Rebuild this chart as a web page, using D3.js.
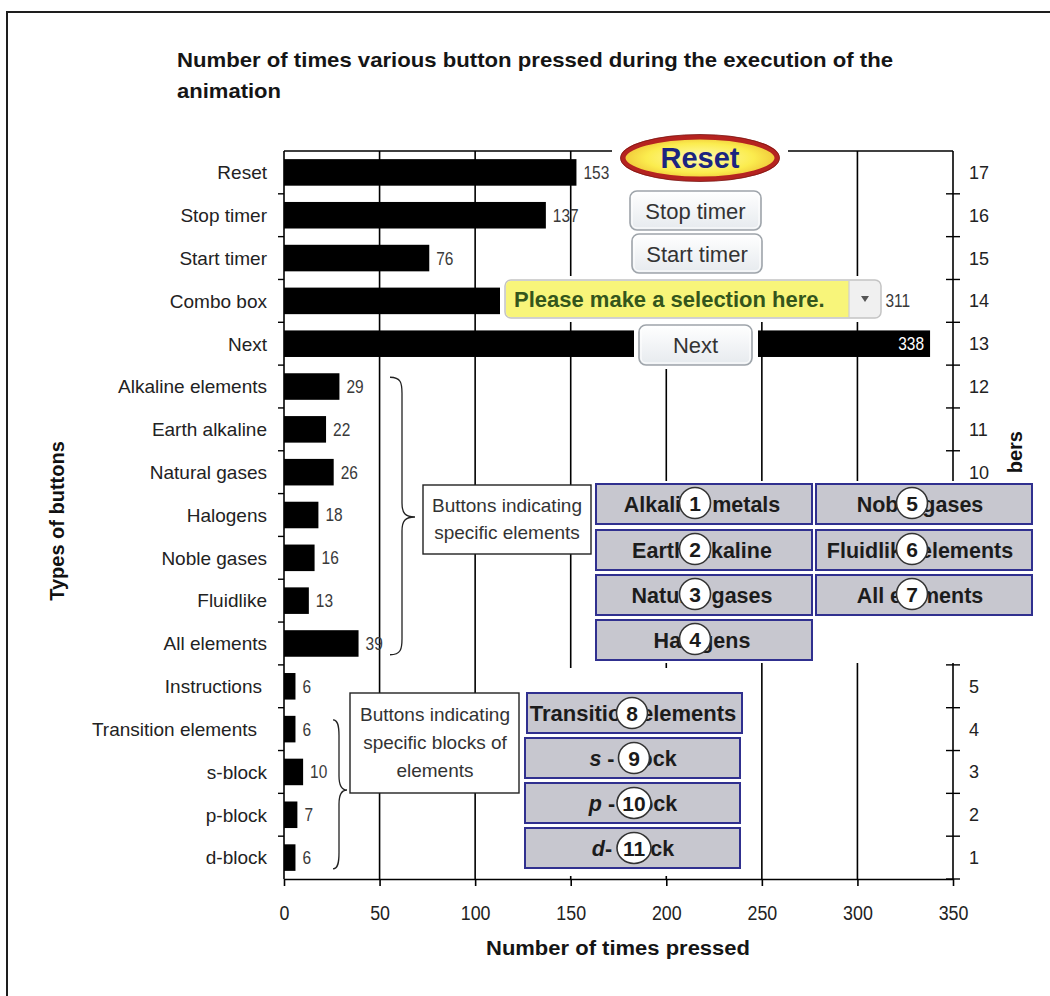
<!DOCTYPE html>
<html>
<head>
<meta charset="utf-8">
<script src="https://cdn.jsdelivr.net/npm/d3@7"></script>
<style>
  html, body { margin: 0; padding: 0; background: #fff; }
  svg { display: block; font-family: "Liberation Sans", Arial, sans-serif; }
</style>
</head>
<body>
<svg id="chart" width="1050" height="996"></svg>
<script>
// ---- data ----
const categories = [
  "Reset", "Stop timer", "Start timer", "Combo box", "Next",
  "Alkaline elements", "Earth alkaline", "Natural gases", "Halogens",
  "Noble gases", "Fluidlike", "All elements", "Instructions",
  "Transition elements", "s-block", "p-block", "d-block"
];
const pressCounts = [153, 137, 76, 311, 338, 29, 22, 26, 18, 16, 13, 39, 6, 6, 10, 7, 6];
const buttonNumbers = ["17","16","15","14","13","12","11","10","9","8","7","6","5","4","3","2","1"];
const xTickValues = [0, 50, 100, 150, 200, 250, 300, 350];

const titleLines = ["Number of times various button pressed during the execution of the", "animation"];
const xAxisTitle = "Number of times pressed";
const yAxisTitle = "Types of buttons";
const yRightTitle = "Button numbers";

const elementButtons = ["Alkaline metals", "Earth alkaline", "Natural gases", "Halogens",
                        "Noble gases", "Fluidlike elements", "All elements"];
const elementButtonNumbers = [1, 2, 3, 4, 5, 6, 7];
const blockButtons = ["Transition elements", "s - block", "p - block", "d- block"];
const blockButtonItalicLead = [false, true, true, true];
const blockButtonNumbers = [8, 9, 10, 11];
const elementNote = ["Buttons indicating", "specific elements"];
const blockNote = ["Buttons indicating", "specific blocks of", "elements"];
const comboText = "Please make a selection here.";

// ---- setup ----
const W = 1050, H = 996;
const svg = d3.select("#chart");
const plot = { left: 284, right: 953, top: 151, bottom: 879 };

const x = d3.scaleLinear().domain([0, 350]).range([plot.left, plot.right]);
const y = d3.scaleBand().domain(categories).range([plot.top, plot.bottom])
  .paddingInner(0.38).paddingOuter(0.19);
const yRight = d3.scaleBand().domain(buttonNumbers).range([plot.top, plot.bottom])
  .paddingInner(0.38).paddingOuter(0.19);
const boundaries = d3.range(1, categories.length).map(i => plot.top + i * y.step());

const ink = "#1e1e1e";

// outer frame
svg.append("path")
  .attr("d", `M7,${H + 2} V12 H${W + 2}`)
  .attr("fill", "none").attr("stroke", ink).attr("stroke-width", 2);

// title
const titleG = svg.append("g").attr("font-weight", "bold").attr("font-size", 21).attr("fill", "#151515");
titleG.append("text").attr("x", 177).attr("y", 67)
  .attr("textLength", 716).attr("lengthAdjust", "spacingAndGlyphs").text(titleLines[0]);
titleG.append("text").attr("x", 177).attr("y", 98)
  .attr("textLength", 104).attr("lengthAdjust", "spacingAndGlyphs").text(titleLines[1]);

// vertical grid lines
svg.append("g").selectAll("line")
  .data(xTickValues.filter(v => v > 0 && v < 350))
  .join("line")
  .attr("x1", d => x(d)).attr("x2", d => x(d))
  .attr("y1", plot.top).attr("y2", plot.bottom)
  .attr("stroke", "#000").attr("stroke-width", 1.6);

// top frame of the plot
svg.append("line")
  .attr("x1", plot.left).attr("x2", plot.right)
  .attr("y1", plot.top).attr("y2", plot.top)
  .attr("stroke", "#000").attr("stroke-width", 1.6);

// bottom axis
const xAxis = svg.append("g")
  .attr("transform", `translate(0,${plot.bottom})`)
  .call(d3.axisBottom(x).tickValues(xTickValues).tickSize(7).tickSizeOuter(0).tickPadding(19));
xAxis.select(".domain").attr("stroke", "#000").attr("stroke-width", 1.6);
xAxis.selectAll(".tick line").attr("stroke", "#000").attr("stroke-width", 1.6);
xAxis.selectAll(".tick text")
  .attr("font-family", "'Liberation Sans', Arial, sans-serif")
  .attr("font-size", 21).attr("fill", "#222")
  .attr("transform", "scale(0.85,1)");

// left axis
svg.append("line")
  .attr("x1", plot.left).attr("x2", plot.left)
  .attr("y1", plot.top).attr("y2", plot.bottom)
  .attr("stroke", "#000").attr("stroke-width", 1.6);
svg.append("g").selectAll("line").data(boundaries).join("line")
  .attr("x1", plot.left - 6).attr("x2", plot.left)
  .attr("y1", d => d).attr("y2", d => d)
  .attr("stroke", "#000").attr("stroke-width", 1.4);
svg.append("g").selectAll("text").data(categories).join("text")
  .attr("x", d => d === "Transition elements" ? 257 : (d === "Instructions" ? 262 : 267))
  .attr("y", d => y(d) + y.bandwidth() / 2)
  .attr("dy", "0.36em")
  .attr("text-anchor", "end")
  .attr("font-size", 19).attr("fill", "#222")
  .text(d => d);

// right axis
svg.append("line")
  .attr("x1", plot.right).attr("x2", plot.right)
  .attr("y1", plot.top).attr("y2", plot.bottom)
  .attr("stroke", "#000").attr("stroke-width", 1.6);
svg.append("g").selectAll("line").data(boundaries.concat([plot.bottom])).join("line")
  .attr("x1", plot.right - 7).attr("x2", plot.right + 7)
  .attr("y1", d => d).attr("y2", d => d)
  .attr("stroke", "#000").attr("stroke-width", 1.4);
svg.append("g").selectAll("text").data(buttonNumbers).join("text")
  .attr("x", 969)
  .attr("y", d => yRight(d) + yRight.bandwidth() / 2)
  .attr("dy", "0.36em")
  .attr("font-size", 18).attr("fill", "#222")
  .text(d => d);

// bars
const rows = categories.map((c, i) => ({ c, v: pressCounts[i] }));
svg.append("g").selectAll("rect").data(rows).join("rect")
  .attr("x", x(0))
  .attr("y", d => y(d.c))
  .attr("width", d => x(d.v) - x(0))
  .attr("height", y.bandwidth())
  .attr("fill", "#000");

// value labels
svg.append("g").selectAll("text").data(rows).join("text")
  .each(function (d) {
    const end = x(d.v);
    const inside = end + 34 > plot.right;
    const tx = inside ? end - 6 : end + 7;
    d3.select(this)
      .attr("transform", `translate(${tx},${y(d.c) + y.bandwidth() / 2}) scale(0.86,1)`)
      .attr("text-anchor", inside ? "end" : "start")
      .attr("fill", inside ? "#fff" : "#3a3a3a");
  })
  .attr("dy", "0.36em")
  .attr("font-size", 18)
  .text(d => d.v);

// axis titles
svg.append("text")
  .attr("transform", `translate(64,521) rotate(-90)`)
  .attr("text-anchor", "middle")
  .attr("font-weight", "bold").attr("font-size", 20).attr("fill", "#111")
  .text(yAxisTitle);

svg.append("defs").append("clipPath").attr("id", "rightTitleClip")
  .append("rect").attr("x", 995).attr("y", 380).attr("width", 50).attr("height", 94);
svg.append("g").attr("clip-path", "url(#rightTitleClip)")
  .append("text")
  .attr("transform", `translate(1022,431) rotate(-90)`)
  .attr("text-anchor", "end")
  .attr("font-weight", "bold").attr("font-size", 20).attr("fill", "#111")
  .text(yRightTitle);

svg.append("text")
  .attr("x", 486).attr("y", 955)
  .attr("textLength", 264).attr("lengthAdjust", "spacingAndGlyphs")
  .attr("font-weight", "bold").attr("font-size", 20).attr("fill", "#151515")
  .text(xAxisTitle);

// ---- control widgets placed over the plot ----
const defs = svg.select("defs");
const btnGrad = defs.append("linearGradient").attr("id", "btnGrad").attr("x1", 0).attr("y1", 0).attr("x2", 0).attr("y2", 1);
btnGrad.append("stop").attr("offset", "0%").attr("stop-color", "#ffffff");
btnGrad.append("stop").attr("offset", "100%").attr("stop-color", "#e6eaee");
const resetGrad = defs.append("radialGradient").attr("id", "resetGrad");
resetGrad.append("stop").attr("offset", "0%").attr("stop-color", "#fffbb0");
resetGrad.append("stop").attr("offset", "70%").attr("stop-color", "#fbec4e");
resetGrad.append("stop").attr("offset", "100%").attr("stop-color", "#f0c93a");

const widgets = svg.append("g");
// white backing of the widget panels
[[612, 128, 176, 150], [500, 276, 385, 46], [634, 321, 124, 48]].forEach(([bx, by, bw, bh]) =>
  widgets.append("rect").attr("x", bx).attr("y", by).attr("width", bw).attr("height", bh).attr("fill", "#fff"));

// Reset ellipse
widgets.append("ellipse").attr("cx", 700).attr("cy", 158).attr("rx", 77).attr("ry", 21)
  .attr("fill", "url(#resetGrad)").attr("stroke", "#b52320").attr("stroke-width", 5);
widgets.append("ellipse").attr("cx", 700).attr("cy", 158).attr("rx", 79.5).attr("ry", 23.5)
  .attr("fill", "none").attr("stroke", "#7a1512").attr("stroke-width", 0.8);
widgets.append("text").attr("x", 700).attr("y", 168).attr("text-anchor", "middle")
  .attr("font-weight", "bold").attr("font-size", 29).attr("fill", "#1c2580")
  .text(categories[0]);

// plain push buttons
[[categories[1], 630, 191, 131, 39], [categories[2], 632, 234, 130, 39], [categories[4], 639, 325, 113, 40]]
  .forEach(([label, bx, by, bw, bh]) => {
    widgets.append("rect").attr("x", bx).attr("y", by).attr("width", bw).attr("height", bh)
      .attr("rx", 7).attr("fill", "url(#btnGrad)").attr("stroke", "#9ea4aa").attr("stroke-width", 1.6);
    widgets.append("rect").attr("x", bx + 2).attr("y", by + 2).attr("width", bw - 4).attr("height", bh - 4)
      .attr("rx", 5).attr("fill", "none").attr("stroke", "#ffffff").attr("stroke-width", 1);
    widgets.append("text").attr("x", bx + bw / 2).attr("y", by + bh / 2 + 8)
      .attr("text-anchor", "middle").attr("font-size", 22).attr("fill", "#333")
      .text(label);
  });

// combo box
widgets.append("rect").attr("x", 505).attr("y", 280).attr("width", 376).attr("height", 38)
  .attr("rx", 6).attr("fill", "#f0f0f0").attr("stroke", "#c4c4c4").attr("stroke-width", 1.5);
widgets.append("path").attr("d", "M511,281 H849 V317 H511 Q506,317 506,312 V286 Q506,281 511,281 Z")
  .attr("fill", "#f8f57a");
widgets.append("line").attr("x1", 849).attr("x2", 849).attr("y1", 281).attr("y2", 317)
  .attr("stroke", "#cfcfcf").attr("stroke-width", 1.2);
widgets.append("path").attr("d", "M861,296 L869,296 L865,302 Z").attr("fill", "#555");
widgets.append("text").attr("x", 514).attr("y", 307)
  .attr("font-weight", "bold").attr("font-size", 22).attr("fill", "#34561c")
  .text(comboText);

// ---- element and block buttons ----
const chipFill = "#c7c7cf", chipStroke = "#30308f";

function numberBadge(g, cx, cy, n) {
  const rx = n >= 10 ? 17 : 15.5;
  g.append("ellipse").attr("cx", cx).attr("cy", cy).attr("rx", rx).attr("ry", 15.5)
    .attr("fill", "#fff").attr("stroke", "#333").attr("stroke-width", 1.6);
  g.append("text").attr("x", cx).attr("y", cy + 7.5).attr("text-anchor", "middle")
    .attr("font-weight", "bold").attr("font-size", 21).attr("fill", "#1a1a1a").text(n);
}

const elemG = svg.append("g");
elemG.append("rect").attr("x", 593).attr("y", 481).attr("width", 444).attr("height", 182).attr("fill", "#fff");
const elemCols = [{ x: 596, badge: 695 }, { x: 816, badge: 912 }];
const elemRowsY = [484, 530, 575, 620];
elementButtons.forEach((label, i) => {
  const col = elemCols[i < 4 ? 0 : 1];
  const by = elemRowsY[i < 4 ? i : i - 4];
  elemG.append("rect").attr("x", col.x).attr("y", by).attr("width", 216).attr("height", 40)
    .attr("fill", chipFill).attr("stroke", chipStroke).attr("stroke-width", 2);
  elemG.append("text").attr("x", col.x + (i < 4 ? 106 : 104)).attr("y", by + 28)
    .attr("text-anchor", "middle").attr("font-weight", "bold").attr("font-size", 21.5).attr("fill", "#1c1c1c")
    .text(label);
  numberBadge(elemG, col.badge, by + 19, elementButtonNumbers[i]);
});

const blockG = svg.append("g");
blockG.append("rect").attr("x", 521).attr("y", 668).attr("width", 225).attr("height", 208).attr("fill", "#fff");
const blockRowsY = [693, 738, 783, 828];
blockButtons.forEach((label, i) => {
  const by = blockRowsY[i];
  blockG.append("rect").attr("x", i === 0 ? 527 : 525).attr("y", by).attr("width", 215).attr("height", 40)
    .attr("fill", chipFill).attr("stroke", chipStroke).attr("stroke-width", 2);
  const t = blockG.append("text").attr("x", 633).attr("y", by + 28)
    .attr("text-anchor", "middle").attr("font-weight", "bold").attr("font-size", i === 0 ? 22 : 21.5)
    .attr("fill", "#1c1c1c");
  if (blockButtonItalicLead[i]) {
    t.append("tspan").attr("font-style", "italic").text(label.charAt(0));
    t.append("tspan").text(label.slice(1));
  } else {
    t.text(label);
  }
  numberBadge(blockG, i === 0 ? 632 : 634, by + 20, blockButtonNumbers[i]);
});

// ---- notes with braces ----
function note(lines, bx, by, bw, bh, cx, baselines) {
  svg.append("rect").attr("x", bx).attr("y", by).attr("width", bw).attr("height", bh)
    .attr("fill", "#fff").attr("stroke", "#222").attr("stroke-width", 1.4);
  lines.forEach((ln, i) => svg.append("text").attr("x", cx).attr("y", baselines[i])
    .attr("text-anchor", "middle").attr("font-size", 19).attr("fill", "#333").text(ln));
}
function brace(xEnd, xStem, xTip, yTop, yTip, yBot) {
  const d = `M${xEnd},${yTop} C${xStem - 1},${yTop} ${xStem},${yTop + 6} ${xStem},${yTop + 16}`
    + ` L${xStem},${yTip - 14} C${xStem},${yTip - 4} ${xStem + 3},${yTip} ${xTip},${yTip}`
    + ` C${xStem + 3},${yTip} ${xStem},${yTip + 4} ${xStem},${yTip + 14}`
    + ` L${xStem},${yBot - 16} C${xStem},${yBot - 6} ${xStem - 1},${yBot} ${xEnd},${yBot}`;
  svg.append("path").attr("d", d).attr("fill", "none").attr("stroke", "#222").attr("stroke-width", 1.3);
}

brace(390, 402, 415, y("Alkaline elements") + 4, 517, y("All elements") + y.bandwidth() - 2);
note(elementNote, 423, 485, 168, 69, 507, [512, 539]);

brace(333, 339, 347, y("Transition elements") + 4, 790, y("d-block") + y.bandwidth() - 2);
note(blockNote, 350, 693, 169, 100, 435, [721, 749, 777]);
</script>
</body>
</html>
